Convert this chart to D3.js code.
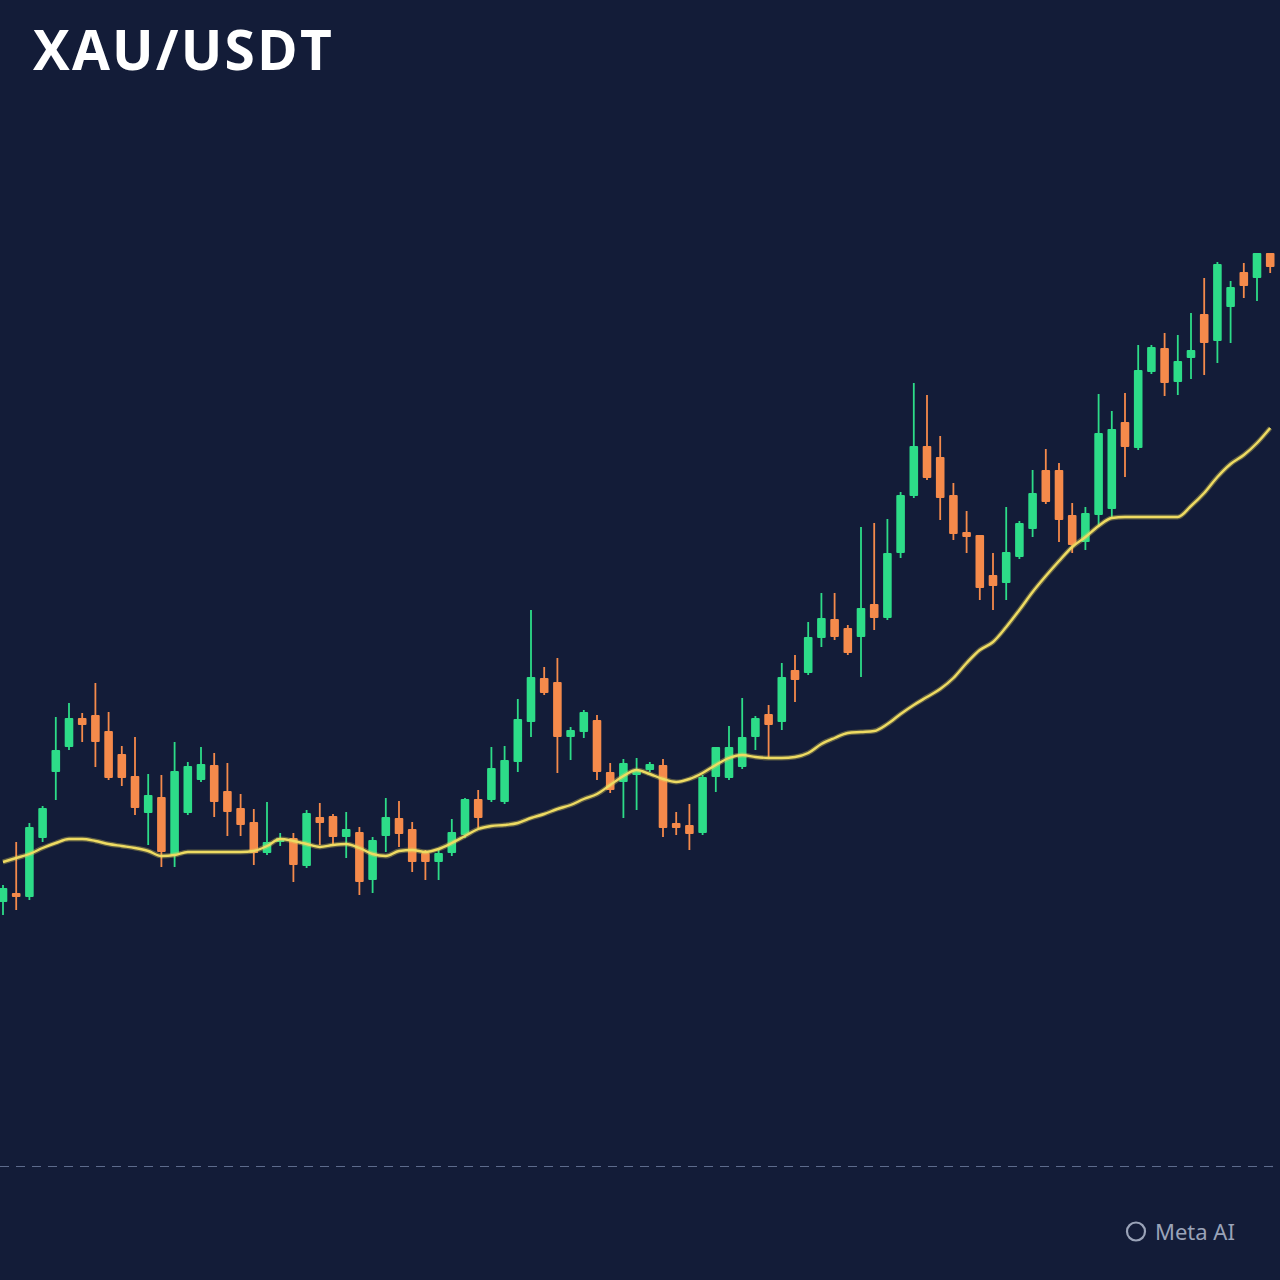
<!DOCTYPE html>
<html>
<head>
<meta charset="utf-8">
<script src="https://cdn.jsdelivr.net/npm/d3@7"></script>
<style>
  html, body { margin: 0; padding: 0; background: #131c38; }
  svg { display: block; }
</style>
</head>
<body>
<div id="chart"></div>
<script>
// ---- Data ----
const title = "XAU/USDT";
const watermark = "Meta AI";

const opens = [2149,2153.5,2151.5,2181,2214,2226.5,2241,2242.5,2234.5,2223,2212,2193.5,2201.5,2172.5,2193.5,2210,2217.5,2204.5,2196,2189,2173.5,2179,2181,2167,2191.5,2192,2181.5,2184,2160,2182,2191,2185.5,2173.5,2169,2173.5,2182.5,2200.5,2200,2199,2219,2239,2261,2259,2231.5,2234,2240,2214,2209,2212.5,2215,2217.5,2188.5,2187.5,2183.5,2211.5,2211,2216.5,2231.5,2243,2239,2265,2263.5,2281,2290.5,2286,2281.5,2298,2291,2323.5,2352,2377,2371.5,2352.5,2334,2332.5,2312.5,2308.5,2321.5,2335.5,2365,2365,2342.5,2329,2342.5,2345.5,2389,2376,2414,2426,2409,2421,2443,2429.5,2446.5,2464,2461,2473.5];
const highs = [2157.5,2179,2188.5,2197,2241.5,2248.5,2243.5,2258.5,2244,2227,2231.5,2213,2212.5,2229,2219,2226.5,2223.5,2218.5,2203,2195.5,2199,2183.5,2183.5,2195,2198.5,2193,2194,2186.5,2181.5,2201,2199.5,2189,2175,2176,2190.5,2201,2205,2226.5,2227,2250.5,2295,2266.5,2271,2236.5,2245,2242.5,2218.5,2220.5,2221,2219,2220.5,2194,2198,2212.5,2226.5,2237,2251,2242,2247.5,2268.5,2272.5,2289,2303.5,2303.5,2287.5,2336.5,2338.5,2340.5,2354,2408.5,2402.5,2382,2358.5,2344.5,2332.5,2323.5,2346.5,2339.5,2365,2375.5,2368.5,2348.5,2346.5,2403,2394.5,2403.5,2427.5,2427.5,2433.5,2432.5,2443.5,2461,2469,2459.5,2468.5,2473.5,2473.5];
const lows = [2142.5,2145,2150,2179,2200,2225,2229,2216.5,2210,2207,2192.5,2177.5,2166.5,2166.5,2192.5,2209,2191.5,2182,2182,2167.5,2172.5,2177,2159,2166,2177.5,2177.5,2171,2152.5,2153.5,2174,2176.5,2164,2160,2160,2172,2181,2186,2199,2198,2214,2231.5,2252.5,2213.5,2220,2231,2210,2203.5,2191,2195,2214,2181.5,2182.5,2175,2182.5,2204,2210,2215.5,2225,2221.5,2235,2249,2262.5,2276.5,2280,2272.5,2261.5,2285,2290,2321,2351,2360,2340,2330,2323.5,2300,2295,2300,2320.5,2331.5,2348,2329,2323.5,2325,2336.5,2341.5,2361.5,2375,2413,2402,2402.5,2410.5,2412.5,2418.5,2428.5,2451,2449.5,2463.5];
const closes = [2156,2151.5,2186.5,2196,2225,2241,2237.5,2229,2211,2211,2196,2202.5,2174,2214.5,2217,2218,2199,2194,2187.5,2173.5,2179,2181,2167.5,2193.5,2188.5,2181.5,2185.5,2159,2180,2191.5,2183,2169,2169,2173.5,2184,2200.5,2191,2216,2220,2240.5,2261.5,2253.5,2231.5,2235,2244,2214,2205,2218.5,2215,2218,2186,2186,2183,2211.5,2226.5,2226.5,2231.5,2241,2237.5,2261.5,2260,2281.5,2291,2281.5,2273.5,2296,2291,2323.5,2352.5,2377,2361,2351,2333,2331.5,2306,2307,2324,2338.5,2353.5,2349,2340,2327.5,2343.5,2383.5,2385.5,2376.5,2415,2426.5,2408.5,2419.5,2425,2428.5,2468,2456.5,2457,2473.5,2466.5];
const movingAverage = [2169,2171,2173,2176,2178.5,2180.5,2180.5,2179.5,2178,2177,2176,2174.5,2172,2172.5,2174,2174,2174,2174,2174,2174.5,2177,2180.5,2179.5,2178,2176.5,2177.5,2178,2176,2173,2172,2174.5,2175,2174,2175.5,2178.5,2182,2185.5,2187,2187.5,2188.5,2191,2193,2195.5,2197.5,2200.5,2203,2207.5,2212,2215,2213,2210.5,2209,2210.5,2213.5,2217.5,2221,2222.5,2221.5,2221,2221,2221.5,2223.5,2228,2231,2233.5,2234,2234.5,2238,2243,2247.5,2251.5,2255.5,2261,2268.5,2275,2279,2286.5,2295,2304,2312,2319.5,2326.5,2331.5,2337,2341,2341.5,2341.5,2341.5,2341.5,2341.5,2347,2353.5,2361.5,2368,2372.5,2378.5,2386];
const priceDomain = [2000, 2500];
const periods = opens.map((_, i) => i);

// ---- Layout ----
const W = 1280, H = 1280;
const svg = d3.select("#chart").append("svg").attr("width", W).attr("height", H);
svg.append("rect").attr("width", W).attr("height", H).attr("fill", "#131c38");

const x = d3.scaleBand().domain(periods).range([-3.6, 1276.8]).padding(0);
const y = d3.scaleLinear().domain(priceDomain).range([1200, 200]);

const up = "#2ddc88", down = "#f58a4b";
const bodyW = 8.6;

const candles = periods.map(i => ({i, o: opens[i], h: highs[i], l: lows[i], c: closes[i]}));

const g = svg.append("g");
const cg = g.selectAll("g.candle").data(candles).join("g").attr("class", "candle");
cg.append("line")
  .attr("x1", d => x(d.i) + x.bandwidth() / 2)
  .attr("x2", d => x(d.i) + x.bandwidth() / 2)
  .attr("y1", d => y(d.h))
  .attr("y2", d => y(d.l))
  .attr("stroke", d => d.c >= d.o ? up : down)
  .attr("stroke-width", 1.8);
cg.append("rect")
  .attr("x", d => x(d.i) + x.bandwidth() / 2 - bodyW / 2)
  .attr("width", bodyW)
  .attr("y", d => y(Math.max(d.o, d.c)))
  .attr("height", d => Math.max(2, Math.abs(y(d.o) - y(d.c))))
  .attr("rx", 1)
  .attr("fill", d => d.c >= d.o ? up : down);

// Moving average line
const line = d3.line()
  .x((d, i) => x(i) + x.bandwidth() / 2)
  .y(d => y(d))
  .curve(d3.curveMonotoneX);
g.append("path")
  .datum(movingAverage)
  .attr("d", line)
  .attr("fill", "none")
  .attr("stroke", "#e9d55a")
  .attr("stroke-opacity", 0.35)
  .attr("stroke-width", 5);
g.append("path")
  .datum(movingAverage)
  .attr("d", line)
  .attr("fill", "none")
  .attr("stroke", "#eedb62")
  .attr("stroke-width", 2.4);

// Dashed baseline
svg.append("line")
  .attr("x1", 0).attr("x2", W)
  .attr("y1", 1166.5).attr("y2", 1166.5)
  .attr("stroke", "#5d6b8c")
  .attr("stroke-width", 1.2)
  .attr("stroke-dasharray", "9,7");

// Title
svg.append("text")
  .attr("x", 33).attr("y", 70)
  .attr("fill", "#ffffff")
  .attr("font-family", "'Open Sans', 'Noto Sans', sans-serif")
  .attr("font-weight", 700)
  .attr("font-size", 55)
  .attr("letter-spacing", 2.2)
  .text(title);

// Watermark
svg.append("circle")
  .attr("cx", 1136).attr("cy", 1231.5).attr("r", 9)
  .attr("fill", "none").attr("stroke", "#9aa3b8").attr("stroke-width", 2.2);
svg.append("text")
  .attr("x", 1155).attr("y", 1239.5)
  .attr("fill", "#9aa3b8")
  .attr("font-family", "'Noto Sans', 'Open Sans', sans-serif")
  .attr("font-size", 22)
  .text(watermark);
</script>
</body>
</html>
